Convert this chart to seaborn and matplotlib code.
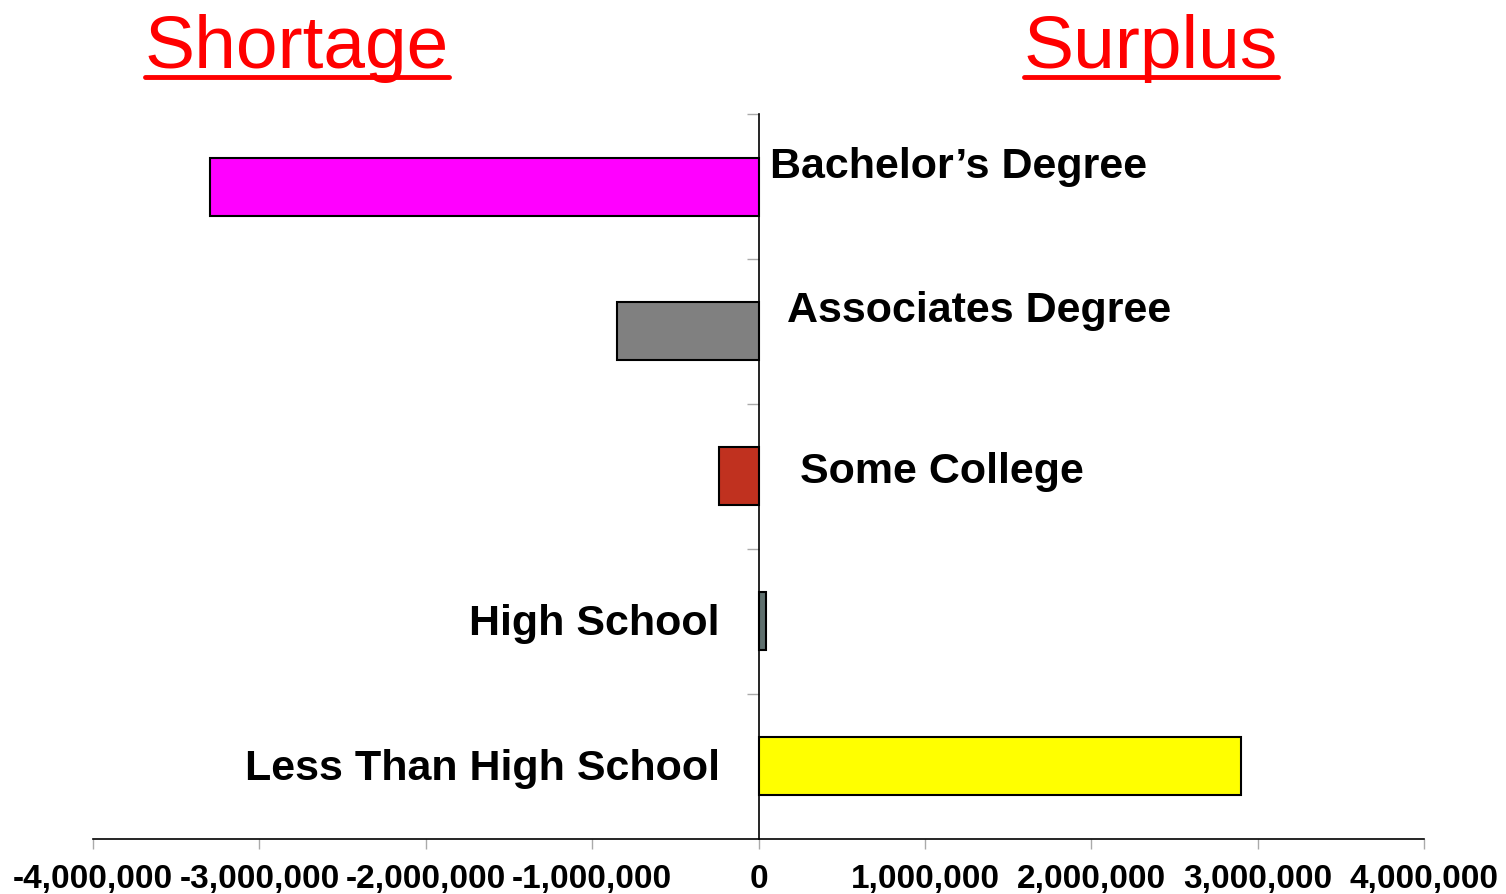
import matplotlib
matplotlib.use("Agg")
import matplotlib.pyplot as plt
import matplotlib.ticker as mticker
import seaborn as sns
import pandas as pd
from matplotlib.lines import Line2D

categories = ["Bachelor\u2019s Degree", "Associates Degree", "Some College",
              "High School", "Less Than High School"]
values = [-3300000, -850000, -235000, 42000, 2900000]
colors = ["#FF00FF", "#808080", "#C0311F", "#5F706E", "#FFFF00"]
xticks = [-4000000, -3000000, -2000000, -1000000, 0,
          1000000, 2000000, 3000000, 4000000]

df = pd.DataFrame({"level": categories, "gap": values})

sns.set_style("white")
plt.rcParams["font.family"] = ["Liberation Sans", "DejaVu Sans"]

fig = plt.figure(figsize=(15.06, 8.95), dpi=100)
ax = fig.add_axes([0.0618, 0.0615, 0.8838, 0.810])

sns.barplot(data=df, x="gap", y="level", hue="level", order=categories,
            palette=dict(zip(categories, colors)), orient="h", width=0.4,
            edgecolor="black", linewidth=1.5, legend=False, ax=ax,
            saturation=1)

ax.set_xlim(-4000000, 4000000)
ax.set_ylim(4.5, -0.5)
ax.set_xticks(xticks)
ax.xaxis.set_major_formatter(mticker.FuncFormatter(lambda v, p: f"{v:,.0f}"))
ax.set_yticks([-0.5, 0.5, 1.5, 2.5, 3.5])
ax.set_yticklabels([])
ax.set_xlabel("")
ax.set_ylabel("")

for lab in ax.get_xticklabels():
    lab.set_fontsize(24)
    lab.set_fontweight("bold")
    lab.set_color("black")
ax.tick_params(axis="x", length=7, color="#AAAAAA", width=1, pad=10.5,
               direction="out", bottom=True)
ax.tick_params(axis="y", length=9, color="#AAAAAA", width=1, direction="out", left=True)

ax.spines["top"].set_visible(False)
ax.spines["right"].set_visible(False)
ax.spines["left"].set_position(("data", 0))
for s in ["left", "bottom"]:
    ax.spines[s].set_color("black")
    ax.spines[s].set_linewidth(1.2)

# category labels next to the bars
label_pos = [(66000, -0.14, "left"), (168000, -0.145, "left"),
             (252000, -0.04, "left"), (-234000, 0.01, "right"),
             (-234000, 0.01, "right")]
for i, (name, (lx, dy, ha)) in enumerate(zip(categories, label_pos)):
    ax.text(lx, i + dy, name, ha=ha, va="center", fontsize=31,
            fontweight="bold", color="black")

# red underlined headers
fig.canvas.draw()
renderer = fig.canvas.get_renderer()
for txt, cx in [("Shortage", 297), ("Surplus", 1151)]:
    t = fig.text(cx / 1506, 1 - 68 / 895, txt, ha="center", va="baseline",
                 fontsize=54, color="#FF0000")
    bb = t.get_window_extent(renderer)
    y_line = 1 - 78 / 895
    fig.add_artist(Line2D([bb.x0 / 1506, bb.x1 / 1506], [y_line, y_line],
                          color="#FF0000", linewidth=3.5,
                          transform=fig.transFigure))

plt.savefig("out.png", dpi=100)
